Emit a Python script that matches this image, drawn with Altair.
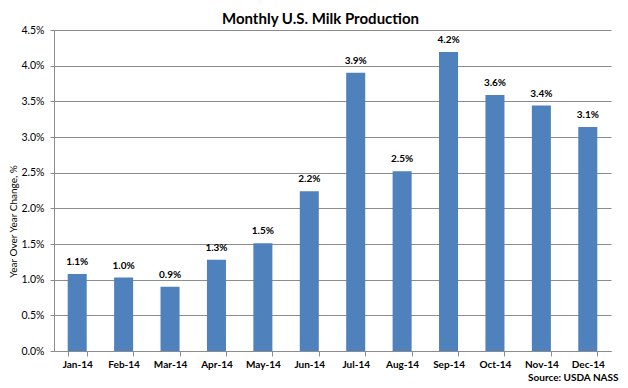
import altair as alt
import pandas as pd

months = ["Jan-14", "Feb-14", "Mar-14", "Apr-14", "May-14", "Jun-14",
          "Jul-14", "Aug-14", "Sep-14", "Oct-14", "Nov-14", "Dec-14"]
yoy_change = [1.08, 1.03, 0.90, 1.28, 1.51, 2.24, 3.90, 2.52, 4.19, 3.59, 3.44, 3.14]
y_ticks = [0.0, 0.5, 1.0, 1.5, 2.0, 2.5, 3.0, 3.5, 4.0, 4.5]

df = pd.DataFrame({"month": months, "value": yoy_change})

FONT = "Lato"
GRID = "#8c8c8c"

x = alt.X("month:N", sort=months,
          scale=alt.Scale(paddingInner=0.59, paddingOuter=0.295),
          axis=alt.Axis(title="Source: USDA NASS", labelAngle=0, labelFontWeight="bold",
                        labelFontSize=10, labelColor="#000000", labelFont=FONT,
                        tickBand="extent", tickSize=5, tickColor=GRID, domainColor=GRID,
                        labelPadding=3,
                        titleFont=FONT, titleFontSize=10, titleFontWeight="bold",
                        titleColor="#000000", titleAnchor="end", titleAlign="right",
                        titleBaseline="middle", titleX=564, titleY=26))
y = alt.Y("value:Q", scale=alt.Scale(domain=[0, 4.5], nice=False),
          axis=alt.Axis(values=y_ticks, labelExpr="format(datum.value, '.1f') + '%'",
                        labelOverlap=False,
                        title="Year Over Year Change, %", titleFont=FONT, titleFontSize=10,
                        titleFontWeight="normal", titleColor="#000000",
                        titleAngle=-90, titleAlign="center", titleBaseline="middle",
                        titleX=-41, titleY=191,
                        labelFont=FONT, labelFontSize=10.5, labelColor="#000000",
                        labelPadding=6, tickSize=4, tickColor=GRID, domainColor=GRID,
                        gridColor=GRID, gridOpacity=1))

bars = alt.Chart(df).mark_bar(color="#4F81BD").encode(x=x, y=y)
labels = alt.Chart(df).transform_calculate(
    label="format(datum.value, '.1f') + '%'"
).mark_text(baseline="bottom", dy=-7, font=FONT, fontSize=10, fontWeight="bold",
            color="#000000").encode(x=x, y=y, text="label:N")

chart = (bars + labels).properties(
    width=557, height=321,
    autosize=alt.AutoSizeParams(type="none"),
    padding={"left": 46, "top": 22, "right": 9, "bottom": 37},
    title=alt.TitleParams("Monthly U.S. Milk Production", font=FONT, fontSize=15,
                          fontWeight="bold", color="#000000", anchor="middle",
                          dx=-12, offset=-2),
).configure_view(stroke=None).configure_axisX(grid=False)

chart.save("out.html", embed_options={"renderer": "svg", "actions": False})
